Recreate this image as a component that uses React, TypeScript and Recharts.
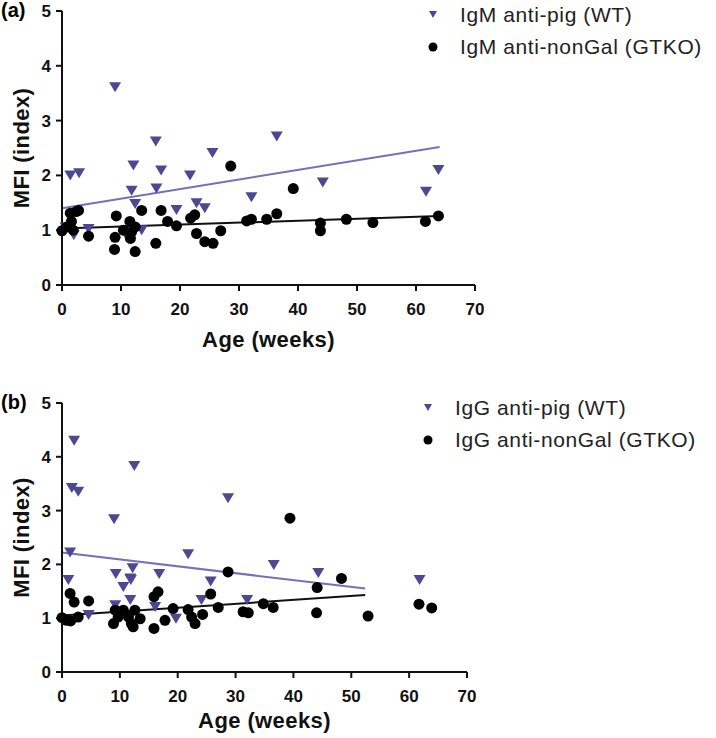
import React from "react";
import {
  ScatterChart,
  Scatter,
  XAxis,
  YAxis,
  ReferenceLine,
} from "recharts";

// Panel (a): IgM
const igmWtAge = [1.4, 2.9, 9.0, 11.8, 12.1, 12.4, 13.5, 15.9, 16.0, 16.8, 19.4, 21.7, 22.8, 24.2, 25.5, 32.1, 36.4, 44.2, 61.7, 63.8, 2.0, 4.5, 0.6, 10.8];
const igmWtMfi = [2.0, 2.04, 3.61, 1.72, 2.18, 1.48, 1.0, 2.62, 1.76, 2.09, 1.37, 2.0, 1.49, 1.4, 2.41, 1.6, 2.71, 1.87, 1.7, 2.1, 0.91, 1.02, 1.05, 0.92];
const igmKoAge = [0, 0.8, 1.4, 1.6, 2.4, 2.8, 1.9, 4.5, 9.2, 9.0, 8.9, 10.4, 11.5, 11.8, 11.6, 12.4, 12.4, 13.5, 15.9, 16.8, 17.9, 19.4, 21.8, 22.5, 22.8, 24.2, 25.6, 26.9, 28.6, 31.3, 32.1, 34.7, 36.4, 39.2, 43.8, 43.8, 48.2, 52.7, 61.6, 63.8];
const igmKoMfi = [0.99, 1.06, 1.31, 1.16, 1.34, 1.36, 1.0, 0.89, 1.26, 0.87, 0.65, 1.0, 1.16, 0.97, 0.85, 1.06, 0.61, 1.36, 0.76, 1.36, 1.16, 1.08, 1.22, 1.28, 0.94, 0.79, 0.76, 0.99, 2.17, 1.17, 1.2, 1.2, 1.3, 1.76, 1.13, 0.99, 1.2, 1.14, 1.16, 1.26];
const igmWtFit = [[0, 1.4], [64, 2.52]];
const igmKoFit = [[0, 1.03], [64, 1.26]];

// Panel (b): IgG
const iggWtAge = [2.1, 1.7, 2.8, 12.5, 9.0, 1.4, 1.1, 9.3, 10.6, 11.8, 12.2, 11.9, 16.8, 16.1, 11.8, 9.2, 4.6, 19.7, 21.8, 25.7, 24.1, 28.7, 32.0, 36.6, 44.3, 61.8];
const iggWtMfi = [4.3, 3.42, 3.35, 3.83, 2.84, 2.22, 1.71, 1.82, 1.58, 1.74, 1.93, 1.71, 1.82, 1.21, 1.34, 1.24, 1.06, 0.99, 2.19, 1.68, 1.34, 3.23, 1.34, 1.99, 1.84, 1.71];
const iggKoAge = [0, 0.8, 1.5, 1.4, 2.1, 2.8, 4.6, 8.9, 9.2, 9.7, 10.6, 11.5, 12.0, 12.3, 12.6, 13.5, 15.9, 15.9, 16.6, 17.8, 19.2, 21.8, 22.4, 23.0, 24.3, 25.7, 27.0, 28.7, 31.3, 32.2, 34.8, 36.5, 39.4, 44.1, 44.0, 48.3, 52.9, 61.7, 63.9];
const iggKoMfi = [1.01, 0.96, 0.95, 1.46, 1.3, 1.02, 1.32, 0.9, 1.15, 1.02, 1.15, 1.02, 0.9, 0.84, 1.15, 0.99, 0.81, 1.4, 1.49, 0.96, 1.18, 1.16, 1.02, 0.9, 1.07, 1.45, 1.2, 1.86, 1.12, 1.1, 1.27, 1.2, 2.86, 1.57, 1.1, 1.74, 1.04, 1.26, 1.19];
const iggWtFit = [[0, 2.22], [52.4, 1.55]];
const iggKoFit = [[0, 1.05], [52.4, 1.43]];

const xTicks = [0, 10, 20, 30, 40, 50, 60, 70];
const yTicks = [0, 1, 2, 3, 4, 5];

const FONT = "'Liberation Sans', Arial, Helvetica, sans-serif";
const WT_COLOR = "#4b4894";
const FIT_COLOR = "#7472b6";
const AXIS_STYLE = { stroke: "#111", strokeWidth: 2 };
const TICK_STYLE = { fontSize: 17, fontWeight: "bold", fill: "#111", fontFamily: FONT };
const TITLE_STYLE = {
  fontSize: 22,
  fontWeight: "bold",
  fill: "#111",
  fontFamily: FONT,
  letterSpacing: 0.4,
};

const zip = (ages: number[], mfi: number[]) =>
  ages.map((age, i) => ({ age, mfi: mfi[i] }));

const DownTriangle = (props: any) => {
  const { cx, cy } = props;
  if (cx == null || cy == null) return null;
  return (
    <path
      d={`M${cx - 6},${cy - 5}L${cx + 6},${cy - 5}L${cx},${cy + 5}Z`}
      fill={WT_COLOR}
    />
  );
};

const Dot = (props: any) => {
  const { cx, cy } = props;
  if (cx == null || cy == null) return null;
  return <circle cx={cx} cy={cy} r={5.5} fill="#000" />;
};

const PanelLegend = ({ labels, left, top }: { labels: string[]; left: number; top: number }) => (
  <div
    style={{
      position: "absolute",
      left,
      top,
      fontFamily: FONT,
      fontSize: 21,
      letterSpacing: 0.6,
      color: "#222",
      lineHeight: "32px",
      whiteSpace: "nowrap",
    }}
  >
    <div style={{ display: "flex", alignItems: "center" }}>
      <svg width={34} height={14}>
        <path d="M3,3L11,3L7,10Z" fill={WT_COLOR} />
      </svg>
      <span>{labels[0]}</span>
    </div>
    <div style={{ display: "flex", alignItems: "center" }}>
      <svg width={34} height={14}>
        <circle cx={7} cy={7} r={4.5} fill="#000" />
      </svg>
      <span>{labels[1]}</span>
    </div>
  </div>
);

interface PanelProps {
  tag: string;
  wt: { age: number; mfi: number }[];
  ko: { age: number; mfi: number }[];
  wtFit: number[][];
  koFit: number[][];
  labels: string[];
  height: number;
  plotTop: number;
  plotHeight: number;
  plotRight: number;
  legendLeft: number;
  legendTop: number;
  titleGap: number;
}

function Panel({
  tag,
  wt,
  ko,
  wtFit,
  koFit,
  labels,
  height,
  plotTop,
  plotHeight,
  plotRight,
  legendLeft,
  legendTop,
  titleGap,
}: PanelProps) {
  const xAxisHeight = height - plotTop - plotHeight;
  return (
    <div style={{ position: "relative", width: 716, height }}>
      <div
        style={{
          position: "absolute",
          left: 1,
          top: plotTop - 12,
          fontFamily: FONT,
          fontWeight: "bold",
          fontSize: 20,
        }}
      >
        {tag}
      </div>
      <PanelLegend labels={labels} left={legendLeft} top={legendTop} />
      <ScatterChart
        width={716}
        height={height}
        margin={{ top: plotTop, right: 716 - plotRight, bottom: 0, left: 0 }}
      >
        <XAxis
          type="number"
          dataKey="age"
          domain={[0, 70]}
          ticks={xTicks}
          interval={0}
          height={xAxisHeight}
          axisLine={AXIS_STYLE}
          tickLine={AXIS_STYLE}
          tickSize={6}
          tickMargin={12}
          tick={TICK_STYLE}
          label={{
            value: "Age (weeks)",
            position: "insideBottom",
            offset: xAxisHeight - titleGap,
            style: TITLE_STYLE,
          }}
        />
        <YAxis
          type="number"
          dataKey="mfi"
          domain={[0, 5]}
          ticks={yTicks}
          interval={0}
          width={62}
          axisLine={AXIS_STYLE}
          tickLine={AXIS_STYLE}
          tickSize={6}
          tickMargin={5}
          tick={TICK_STYLE}
          label={{
            value: "MFI (index)",
            angle: -90,
            position: "insideLeft",
            offset: 21,
            style: { ...TITLE_STYLE, textAnchor: "middle" },
          }}
        />
        <Scatter
          name={labels[0]}
          data={wt}
          shape={DownTriangle}
          fill={WT_COLOR}
          isAnimationActive={false}
        />
        <Scatter
          name={labels[1]}
          data={ko}
          shape={Dot}
          fill="#000"
          isAnimationActive={false}
        />
        <ReferenceLine
          segment={[
            { x: wtFit[0][0], y: wtFit[0][1] },
            { x: wtFit[1][0], y: wtFit[1][1] },
          ]}
          stroke={FIT_COLOR}
          strokeWidth={2}
        />
        <ReferenceLine
          segment={[
            { x: koFit[0][0], y: koFit[0][1] },
            { x: koFit[1][0], y: koFit[1][1] },
          ]}
          stroke="#111"
          strokeWidth={2}
        />
      </ScatterChart>
    </div>
  );
}

export default function App() {
  return (
    <div
      style={{
        position: "absolute",
        left: 0,
        top: 0,
        width: 716,
        height: 738,
        background: "#fff",
      }}
    >
      <Panel
        tag="(a)"
        wt={zip(igmWtAge, igmWtMfi)}
        ko={zip(igmKoAge, igmKoMfi)}
        wtFit={igmWtFit}
        koFit={igmKoFit}
        labels={["IgM anti-pig (WT)", "IgM anti-nonGal (GTKO)"]}
        height={360}
        plotTop={11}
        plotHeight={274}
        plotRight={475}
        legendLeft={426}
        legendTop={-1}
        titleGap={62}
      />
      <Panel
        tag="(b)"
        wt={zip(iggWtAge, iggWtMfi)}
        ko={zip(iggKoAge, iggKoMfi)}
        wtFit={iggWtFit}
        koFit={iggKoFit}
        labels={["IgG anti-pig (WT)", "IgG anti-nonGal (GTKO)"]}
        height={378}
        plotTop={43}
        plotHeight={269}
        plotRight={467}
        legendLeft={421}
        legendTop={32}
        titleGap={56}
      />
    </div>
  );
}
